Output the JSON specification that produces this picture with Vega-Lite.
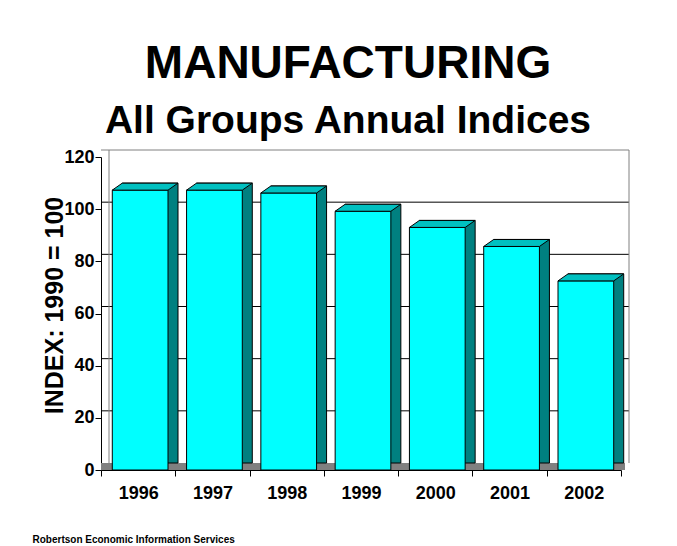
{
  "$schema": "https://vega.github.io/schema/vega-lite/v6.json",
  "width": 520,
  "height": 313,
  "autosize": {"type": "none"},
  "padding": {"left": 101, "top": 157, "right": 56, "bottom": 76},
  "background": "white",
  "config": {
    "view": {"stroke": null},
    "font": "Liberation Sans",
    "axis": {"labelFont": "Liberation Sans", "titleFont": "Liberation Sans", "labelColor": "black", "titleColor": "black", "domainColor": "black", "tickColor": "black"}
  },
  "title": {
    "text": "MANUFACTURING",
    "subtitle": "All Groups Annual Indices",
    "font": "Liberation Sans",
    "subtitleFont": "Liberation Sans",
    "fontSize": 46,
    "fontWeight": "bold",
    "subtitleFontSize": 39,
    "subtitleFontWeight": "bold",
    "color": "black",
    "subtitleColor": "black",
    "anchor": "middle",
    "dx": -13,
    "offset": 6,
    "subtitlePadding": 14
  },
  "datasets": {
    "bars": [
      {"year": "1996", "v": 107.3},
      {"year": "1997", "v": 107.3},
      {"year": "1998", "v": 106.2},
      {"year": "1999", "v": 99.2},
      {"year": "2000", "v": 93.0},
      {"year": "2001", "v": 85.7},
      {"year": "2002", "v": 72.5}
    ],
    "grid": [
      {"v": 0}, {"v": 20}, {"v": 40}, {"v": 60}, {"v": 80}, {"v": 100}, {"v": 120}
    ]
  },
  "data": {"name": "bars"},
  "layer": [
    {
      "data": {"name": "grid"},
      "transform": [{"filter": "datum.v > 0"}],
      "mark": {"type": "rule", "strokeWidth": 1, "xOffset": 8, "x2Offset": 8, "yOffset": -7},
      "encoding": {
        "y": {
          "field": "v",
          "type": "quantitative",
          "title": "INDEX: 1990 = 100",
          "scale": {"domain": [0, 120], "nice": false},
          "axis": {
            "title": "INDEX: 1990 = 100",
            "titleFontSize": 25,
            "titleFontWeight": "bold",
            "titleAngle": -90,
            "titleAlign": "center",
            "titleBaseline": "middle",
            "titleX": -47,
            "titleY": 148,
            "values": [0, 20, 40, 60, 80, 100, 120],
            "labelFontSize": 18,
            "labelFontWeight": "bold",
            "labelPadding": 1,
            "tickSize": 6,
            "grid": false
          }
        },
        "color": {"condition": {"test": "datum.v === 120", "value": "#808080"}, "value": "#000000"}
      }
    },
    {
      "transform": [{"filter": "datum.year === '1996'"}],
      "mark": {"type": "rule", "color": "#808080", "strokeWidth": 1, "xOffset": 8, "yOffset": -7, "y2Offset": -7},
      "encoding": {
        "x": {
          "field": "year",
          "type": "nominal",
          "bandPosition": 0,
          "title": "Robertson Economic Information Services",
          "scale": {"paddingInner": 0, "paddingOuter": 0},
          "axis": {
            "title": "Robertson Economic Information Services",
            "titleFontSize": 10,
            "titleFontWeight": "bold",
            "titleAnchor": "start",
            "titleAlign": "left",
            "titleBaseline": "alphabetic",
            "titleX": -69,
            "titleY": 72,
            "labelAngle": 0,
            "labelFontSize": 18,
            "labelFontWeight": "bold",
            "labelPadding": 8,
            "tickSize": 6,
            "tickBand": "extent",
            "grid": false
          }
        },
        "y": {"datum": 0, "type": "quantitative", "title": "INDEX: 1990 = 100"},
        "y2": {"datum": 120}
      }
    },
    {
      "transform": [{"filter": "datum.year === '2002'"}],
      "mark": {"type": "rule", "color": "#808080", "strokeWidth": 1, "xOffset": 8, "yOffset": -7, "y2Offset": -7},
      "encoding": {
        "x": {"field": "year", "type": "nominal", "bandPosition": 1, "title": "Robertson Economic Information Services"},
        "y": {"datum": 0, "type": "quantitative", "title": "INDEX: 1990 = 100"},
        "y2": {"datum": 120}
      }
    },
    {
      "data": {"name": "grid"},
      "transform": [{"filter": "datum.v === 0"}],
      "mark": {"type": "rule", "color": "#808080", "strokeWidth": 7, "xOffset": 4, "x2Offset": 4, "yOffset": -3.5},
      "encoding": {
        "y": {"field": "v", "type": "quantitative", "title": "INDEX: 1990 = 100"}
      }
    },
    {
      "mark": {"type": "bar", "fill": "#008080", "stroke": "black", "strokeWidth": 1, "width": {"band": 0.75}, "xOffset": 12, "yOffset": -7, "y2Offset": -7},
      "encoding": {
        "x": {"field": "year", "type": "nominal", "title": "Robertson Economic Information Services"},
        "y": {"field": "v", "type": "quantitative", "title": "INDEX: 1990 = 100"}
      }
    },
    {
      "mark": {"type": "bar", "fill": "#00FFFF", "stroke": "black", "strokeWidth": 1, "width": {"band": 0.75}, "xOffset": 2},
      "encoding": {
        "x": {"field": "year", "type": "nominal", "title": "Robertson Economic Information Services"},
        "y": {"field": "v", "type": "quantitative", "title": "INDEX: 1990 = 100"}
      }
    },
    {
      "mark": {"type": "point", "filled": true, "opacity": 1, "fill": "#00C0C0", "stroke": "black", "strokeWidth": 1, "size": 3108, "xOffset": 2, "shape": "M -1 0 L -0.641 -0.251 L 1.359 -0.251 L 1 0 Z"},
      "encoding": {
        "x": {"field": "year", "type": "nominal", "title": "Robertson Economic Information Services"},
        "y": {"field": "v", "type": "quantitative", "title": "INDEX: 1990 = 100"}
      }
    }
  ]
}
